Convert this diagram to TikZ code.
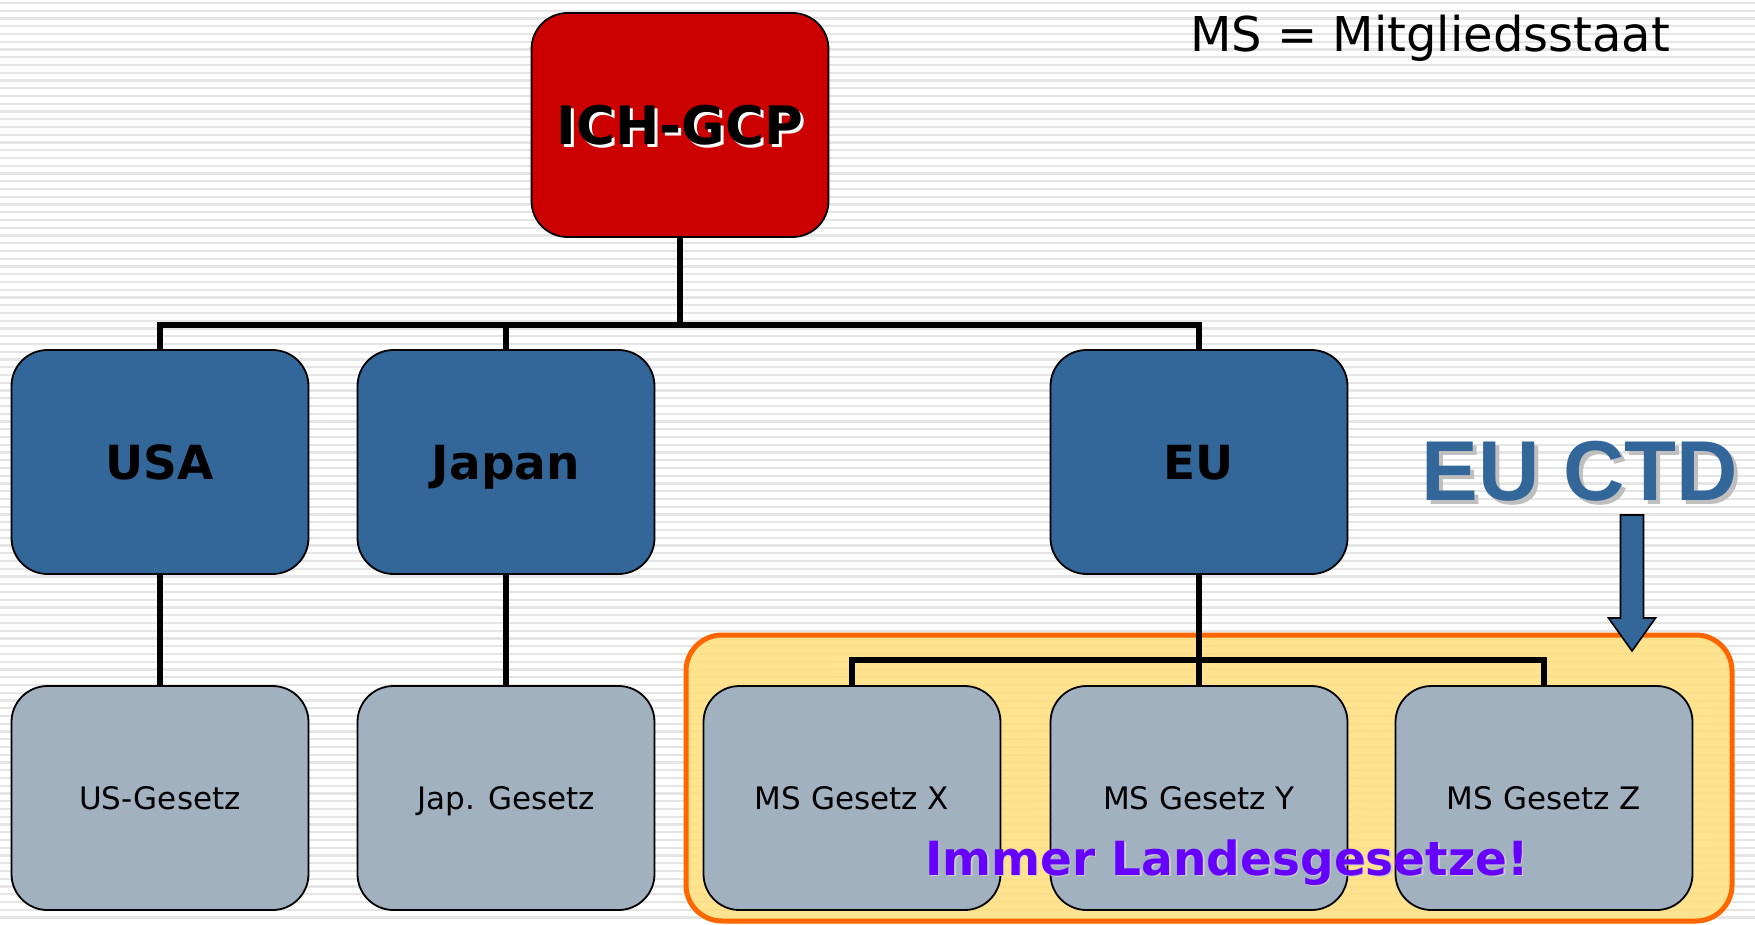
\documentclass[tikz,border=0pt]{standalone}
\usepackage{fontspec}
\setmainfont{DejaVu Sans}
\newfontfamily\ctdfont{Liberation Sans}
\usepackage{tikz}
\usetikzlibrary{calc}

\definecolor{ichred}{HTML}{CC0000}
\definecolor{eublue}{HTML}{336699}
\definecolor{lawgrey}{HTML}{A2B1C0}
\definecolor{hlorange}{HTML}{FF6600}
\definecolor{hlyellow}{HTML}{FFDF7C}
\definecolor{notepurple}{HTML}{6600FF}

% text with a shifted copy behind it
\newcommand{\shadowtxt}[4]{\rlap{\kern#4\raisebox{-#4}{\color{#2}#3}}{\color{#1}#3}}

\begin{document}
\begin{tikzpicture}[x=1pt,y=-1pt,
	box/.style={draw=black, line width=1.8pt, rounded corners=36pt,
		minimum width=297pt, minimum height=224pt, inner sep=0pt, text depth=0pt},
	topbox/.style={box, fill=ichred, text height=38pt, font=\fontsize{53}{60}\selectfont\bfseries},
	regionbox/.style={box, fill=eublue, text height=34pt, font=\fontsize{47}{56}\selectfont\bfseries},
	lawbox/.style={box, fill=lawgrey, text height=22.5pt, font=\fontsize{31}{38}\selectfont},
	link/.style={draw=black, line width=5.5pt}]
	\useasboundingbox (0,0) rectangle (1755,924);
	% striped background
	\fill [white] (0,0) rectangle (1755,924);
	\foreach \y in {3,10.75,...,924}
		\draw [gray!20, line width=2.4pt] (0,\y) -- (1755,\y);
	% highlighted area round the member state laws
	\draw [draw=hlorange, line width=5pt, fill=hlyellow, fill opacity=0.85, rounded corners=36pt]
		(686,635) rectangle (1732,921);
	% boxes
	\node [topbox] (ich) at (680,125) {\shadowtxt{black}{white}{ICH-GCP}{3pt}};
	\node [regionbox] (usa) at (160,462) {USA};
	\node [regionbox] (japan) at (506,462) {Japan};
	\node [regionbox] (eu) at (1199,462) {EU};
	\node [lawbox] (uslaw) at (160,798) {US-Gesetz};
	\node [lawbox] (japlaw) at (506,798) {Jap. Gesetz};
	\node [lawbox] (msx) at (852,798) {MS Gesetz X};
	\node [lawbox] (msy) at (1199,798) {MS Gesetz Y};
	\node [lawbox] (msz) at (1544,798) {MS Gesetz Z};
	% connectors
	\coordinate (bus) at (680,325);
	\coordinate (msbus) at (1199,660);
	\draw [link] (ich.south) -- (bus);
	\draw [link] (usa.north) |- (bus) -| (eu.north);
	\draw [link] (japan.north) -- (japan.north |- bus);
	\draw [link] (usa.south) -- (uslaw.north);
	\draw [link] (japan.south) -- (japlaw.north);
	\draw [link] (eu.south) -- (msy.north);
	\draw [link] (msx.north) |- (msbus) -| (msz.north);
	% texts
	\node [anchor=base west, inner sep=0pt, font=\fontsize{48}{56}\selectfont] (note) at (1190,51) {MS = Mitgliedsstaat};
	\node [anchor=base, inner sep=0pt, font=\ctdfont\fontsize{85}{96}\selectfont\bfseries] (ctd) at (1580,500)
		{\shadowtxt{eublue}{gray!50}{EU CTD}{4pt}};
	\node [anchor=base, inner sep=0pt, font=\fontsize{47}{56}\selectfont\bfseries] (always) at (1227,875)
		{\shadowtxt{notepurple}{gray!40}{Immer Landesgesetze!}{1.5pt}};
	% block arrow
	\coordinate (tip) at (1632,651);
	\draw [fill=eublue, line width=1.6pt, line join=miter]
		($(tip)+(-11.5,-136)$) -- ++(23,0) -- ++(0,103) -- ++(12,0) -- (tip)
		-- ++(-23.5,-33) -- ++(12,0) -- cycle;
\end{tikzpicture}
\end{document}
